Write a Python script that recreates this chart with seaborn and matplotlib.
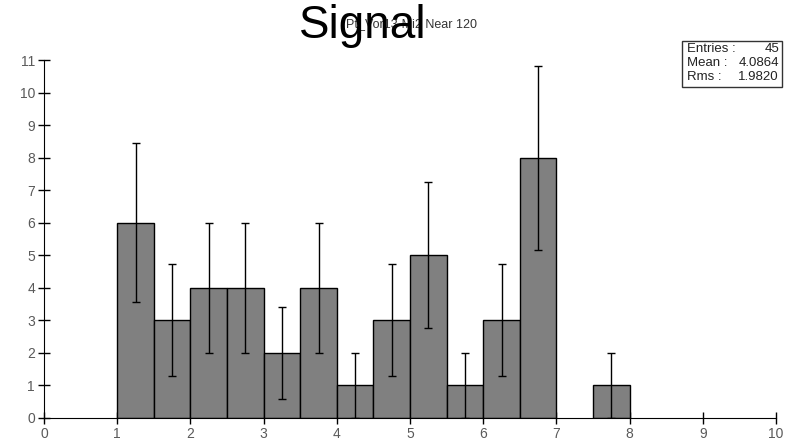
import numpy as np
import pandas as pd
import matplotlib
matplotlib.use("Agg")
import matplotlib.pyplot as plt
from matplotlib.patches import Rectangle
import seaborn as sns

# ── data ──────────────────────────────────────────────────────
bin_edges = [1.0, 1.5, 2.0, 2.5, 3.0, 3.5, 4.0, 4.5, 5.0, 5.5, 6.0, 6.5, 7.0, 7.5, 8.0]
counts    = [6, 3, 4, 4, 2, 4, 1, 3, 5, 1, 3, 8, 0, 1]
errors    = [2.45, 1.73, 2.0, 2.0, 1.41, 2.0, 1.0, 1.73, 2.24, 1.0, 1.73, 2.83, 0.0, 1.0]
x_ticks   = [0, 1, 2, 3, 4, 5, 6, 7, 8, 9, 10]
y_ticks   = [0, 1, 2, 3, 4, 5, 6, 7, 8, 9, 10, 11]
stat_names  = ["Entries :", "Mean :", "Rms :"]
stat_values = ["45", "4.0864", "1.9820"]

centers = [(a + b) / 2 for a, b in zip(bin_edges[:-1], bin_edges[1:])]
df = pd.DataFrame({"x": centers, "n": counts, "err": errors})

sns.set_style("white")
plt.rcParams["font.family"] = ["Liberation Sans", "DejaVu Sans"]

fig = plt.figure(figsize=(7.87, 4.42), dpi=100)
ax = fig.add_axes([0.056, 0.055, 0.930, 0.809])

# only non-empty bins get a box
shown = df[df["n"] > 0]
sns.histplot(data=shown, x="x", weights="n", bins=bin_edges, ax=ax,
             color="#808080", edgecolor="black", linewidth=1.0, alpha=1.0)
for p in ax.patches:
    if p.get_height() == 0:
        p.set_visible(False)

# sqrt(N) error bars
ax.errorbar(shown["x"], shown["n"], yerr=shown["err"], fmt="none",
            ecolor="black", elinewidth=1.0, capsize=3, capthick=1.0)

ax.set_xlim(0, 10)
ax.set_ylim(0, 11)
ax.set_xticks(x_ticks)
ax.set_yticks(y_ticks)
ax.set_xlabel("")
ax.set_ylabel("")
sns.despine(ax=ax)
ax.spines["left"].set_color("black")
ax.spines["bottom"].set_color("black")
ax.tick_params(bottom=True, left=True, direction="inout", length=9, width=1,
               colors="black", labelcolor="#5a5a5a", labelsize=10, pad=2)

# titles (they overlap in the original too)
fig.text(477 / 787, 1 - 27 / 442, "Pt_Vor13-Mi2 Near 120", ha="right",
         va="baseline", fontsize=9, color="#333333")
fig.text(363 / 787, 1 - 38 / 442, "Signal", ha="center", va="baseline",
         fontsize=33, color="black")

# stats box
fig.add_artist(Rectangle((682 / 787, 1 - 87 / 442), 100 / 787, 46 / 442,
                         transform=fig.transFigure, facecolor="white",
                         edgecolor="#333333", linewidth=1.0))
for i, (name, val) in enumerate(zip(stat_names, stat_values)):
    yy = 1 - (49 + 14 * i) / 442
    fig.text(687 / 787, yy, name, ha="left", va="center", fontsize=9.5, color="#222222")
    fig.text(779 / 787, yy, val, ha="right", va="center", fontsize=9.5, color="#222222")

fig.savefig("out.png", dpi=100)
